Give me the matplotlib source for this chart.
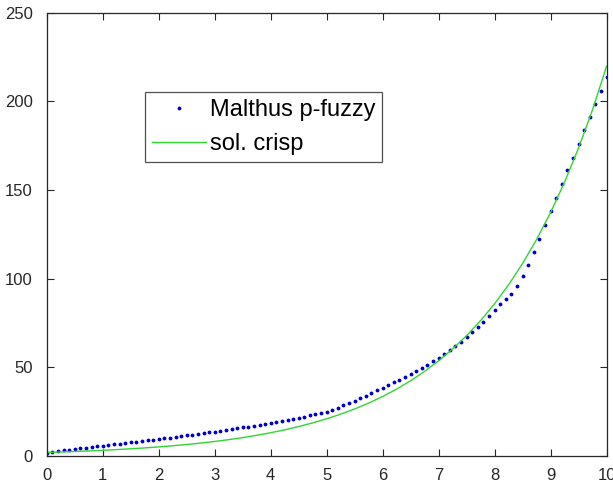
import numpy as np
import matplotlib
matplotlib.use("Agg")
import matplotlib.pyplot as plt

plt.rcParams['font.family'] = ['Liberation Sans', 'DejaVu Sans']

# solution p-fuzzy (pas de 0.1)
t_fuzzy = np.arange(0, 101) / 10
pop_fuzzy = [1.9, 2.3, 2.7, 3.1, 3.5, 3.9, 4.3, 4.7, 5.1, 5.5,
             5.9, 6.3, 6.6, 7.0, 7.4, 7.7, 8.1, 8.5, 8.8, 9.2,
             9.6, 10.0, 10.4, 10.8, 11.2, 11.6, 12.0, 12.4, 12.9, 13.3,
             13.8, 14.2, 14.7, 15.1, 15.6, 16.1, 16.6, 17.1, 17.6, 18.1,
             18.6, 19.1, 19.7, 20.3, 20.9, 21.5, 22.2, 22.9, 23.6, 24.3,
             25.0, 26.1, 27.3, 28.5, 29.8, 31.2, 32.6, 34.1, 35.6, 37.0,
             38.5, 40.0, 41.5, 43.0, 44.6, 46.2, 47.8, 49.6, 51.5, 53.5,
             55.5, 57.6, 59.7, 62.0, 64.5, 67.0, 69.7, 72.6, 75.6, 79.0,
             82.5, 85.6, 88.4, 91.6, 95.9, 101.5, 107.9, 115.0, 122.6, 130.0,
             138.0, 145.4, 153.4, 161.0, 168.0, 175.9, 183.6, 190.9, 198.6, 206.0,
             213.6]

# solution crisp (pas de 0.25)
t_crisp = np.arange(0, 41) / 4
pop_crisp = [2.0, 2.25, 2.53, 2.85, 3.2, 3.6, 4.05, 4.55, 5.12, 5.76,
             6.48, 7.28, 8.19, 9.21, 10.36, 11.65, 13.11, 14.74, 16.58, 18.65,
             20.97, 23.59, 26.53, 29.83, 33.55, 37.74, 42.44, 47.74, 53.69, 60.38,
             67.91, 76.38, 85.9, 96.61, 108.65, 122.2, 137.44, 154.57, 173.84, 195.51,
             219.89]

fig = plt.figure(figsize=(6.13, 4.84), dpi=100)
ax = fig.add_axes([0.0762, 0.0579, 0.9135, 0.916])

ax.plot(t_fuzzy, pop_fuzzy, '.', color='#0000c8', markersize=3.5, label="Malthus p-fuzzy")
ax.plot(t_crisp, pop_crisp, '-', color='#2fd62f', linewidth=1, label="sol. crisp")

ax.set_xlim(0, 10)
ax.set_ylim(0, 250)
ax.set_xticks(range(0, 11))
ax.set_yticks(range(0, 251, 50))
ax.tick_params(direction='in', top=True, right=True, length=5, width=0.8,
               labelsize=12, colors='#262626')
ax.tick_params(axis='y', pad=10)
ax.tick_params(axis='x', pad=9)
for s in ax.spines.values():
    s.set_color('#262626')
    s.set_linewidth(0.9)

leg = ax.legend(loc='upper left', bbox_to_anchor=(0.2365, 0.810),
                bbox_transform=fig.transFigure, fontsize=17, frameon=True,
                fancybox=False, edgecolor='#262626', handlelength=2.3,
                handletextpad=0.15, borderpad=0.3, labelspacing=0.5,
                borderaxespad=0)
leg.get_frame().set_linewidth(0.9)

fig.savefig("out.png", dpi=100)
